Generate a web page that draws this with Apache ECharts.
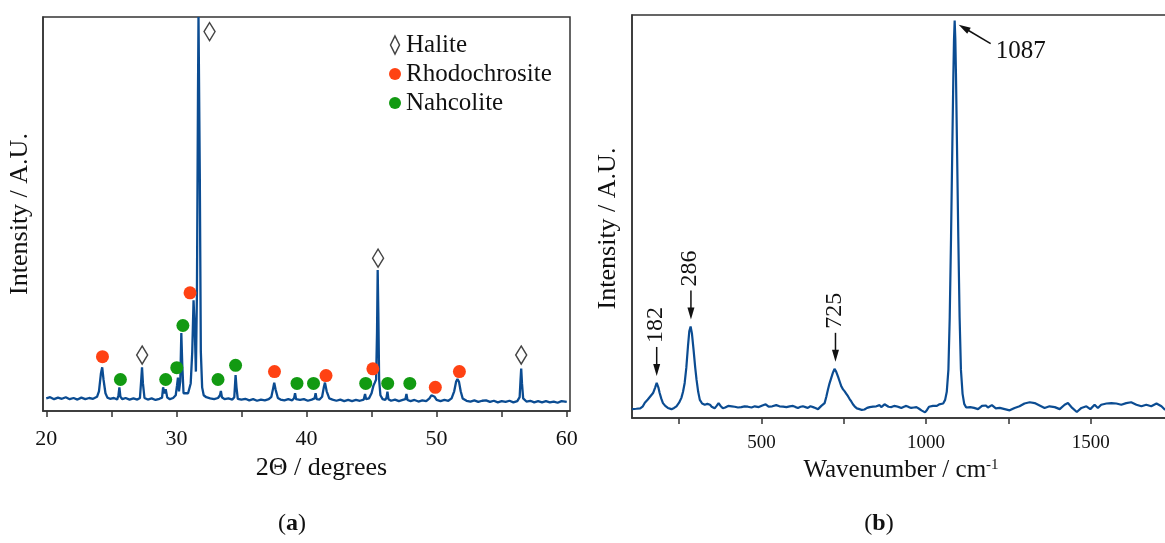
<!DOCTYPE html>
<html><head><meta charset="utf-8">
<script src="https://cdn.jsdelivr.net/npm/echarts@6/dist/echarts.min.js"></script>
<style>html,body{margin:0;padding:0;background:#fff}#c{width:1165px;height:543px}</style>
</head><body><div id="c"></div>
<script>
const FONT = "'Liberation Serif','Times New Roman',serif";

// ---- (a) XRD pattern ----
const xrdAngle = [20.0,20.3,20.6,20.9,21.2,21.5,21.8,22.1,22.4,22.7,23.0,23.3,23.6,23.9,24.05,24.2,24.3,24.4,24.55,24.7,24.9,25.2,25.45,25.55,25.62,25.7,25.85,26.1,26.4,26.7,27.0,27.2,27.3,27.36,27.43,27.55,27.8,28.1,28.4,28.7,28.9,28.98,29.08,29.18,29.3,29.5,29.75,29.95,30.05,30.12,30.2,30.3,30.38,30.45,30.55,30.7,30.9,31.1,31.22,31.32,31.42,31.5,31.58,31.66,31.7,31.75,31.8,31.88,31.98,32.1,32.3,32.6,32.9,33.2,33.35,33.42,33.5,33.7,34.0,34.3,34.45,34.55,34.62,34.72,35.0,35.3,35.6,35.9,36.2,36.5,36.8,37.1,37.3,37.45,37.52,37.62,37.8,38.0,38.3,38.6,38.9,39.05,39.12,39.2,39.5,39.8,40.1,40.4,40.62,40.7,40.78,41.0,41.2,41.33,41.42,41.55,41.75,42.0,42.3,42.6,42.9,43.2,43.5,43.8,44.1,44.4,44.5,44.58,44.8,45.0,45.15,45.25,45.35,45.42,45.47,45.52,45.58,45.68,45.85,46.05,46.15,46.22,46.3,46.5,46.8,47.1,47.4,47.6,47.68,47.76,48.0,48.3,48.6,48.9,49.2,49.45,49.6,49.72,49.85,50.0,50.3,50.6,50.9,51.15,51.35,51.5,51.6,51.72,51.85,52.0,52.3,52.6,52.9,53.2,53.5,53.8,54.1,54.4,54.7,55.0,55.3,55.6,55.9,56.2,56.38,56.45,56.5,56.56,56.65,56.9,57.2,57.5,57.8,58.1,58.4,58.7,59.0,59.3,59.6,60.0];
const xrdIntensity = [3.2,3.5,3.0,3.4,3.1,3.5,3.0,3.3,2.9,3.4,3.0,3.3,3.1,3.6,5.0,9.5,11.1,8.0,4.5,3.4,3.1,3.3,2.9,4.0,6.0,3.6,3.0,3.3,2.9,3.2,2.9,3.3,8.0,11.1,7.0,3.3,2.9,3.2,2.8,3.1,3.4,6.0,4.5,5.5,3.4,3.0,3.3,4.0,6.5,8.5,5.0,7.5,19.8,12.0,4.5,4.0,4.5,7.0,15.0,28.1,20.0,10.0,30.0,80.0,100,100,60.0,15.0,6.0,4.0,3.5,3.2,3.0,3.3,4.0,5.1,3.5,3.0,3.2,2.9,3.5,9.1,6.0,3.1,2.9,3.1,2.7,3.0,2.6,2.9,2.7,3.0,3.6,6.0,7.2,5.5,3.3,2.9,2.7,3.0,2.7,3.3,4.5,3.0,2.8,3.0,2.6,2.9,3.2,4.5,3.0,2.9,3.6,6.0,7.2,5.0,3.2,2.9,2.6,2.9,2.5,2.8,2.5,2.8,2.6,2.9,4.3,3.0,3.2,4.5,6.5,7.2,8.0,20.0,35.8,25.0,8.0,4.0,3.0,2.8,3.4,4.9,3.0,2.6,2.9,2.5,2.8,3.0,4.3,2.8,2.5,2.8,2.4,2.7,2.5,3.2,4.0,4.2,3.6,2.8,2.5,2.8,2.6,3.2,5.0,7.5,8.1,7.4,5.0,3.2,2.6,2.4,2.7,2.3,2.6,2.7,2.3,2.6,2.2,2.5,2.3,2.6,2.2,2.5,3.5,8.0,10.8,7.0,3.2,2.4,2.6,2.2,2.5,2.2,2.5,2.2,2.4,2.1,2.5,2.3];

const haliteAngle = [27.37, 32.55, 45.5, 56.5];
const haliteMark  = [14.2, 96.3, 38.8, 14.2];
const rhodoAngle  = [24.32, 31.05, 37.54, 41.5, 45.1, 49.9, 51.75];
const rhodoMark   = [13.8, 30.0, 10.0, 9.0, 10.7, 6.0, 10.0];
const nahcoAngle  = [25.7, 29.18, 30.03, 30.5, 33.2, 34.55, 39.27, 40.54, 44.55, 46.24, 47.94];
const nahcoMark   = [8.0, 8.0, 11.0, 21.7, 8.0, 11.6, 7.0, 7.0, 7.0, 7.0, 7.0];

const xrdTicks  = [20,25,30,35,40,45,50,55,60];
const xrdLabels = [20,30,40,50,60];

// ---- (b) Raman spectrum ----
const ramanShift = [107,120,132,140,146,155,161,171,177,182,187,191,196,201,208,216,227,235,242,250,257,262,267,272,277,281,285,289,294,299,303,308,313,320,328,336,344,349,353,358,364,370,376,383,390,399,410,419,429,439,449,459,470,480,492,503,513,522,533,545,555,566,576,586,596,604,611,619,626,634,641,649,657,664,672,677,682,687,692,697,702,707,712,717,722,727,733,738,743,748,753,758,763,768,773,778,783,790,798,805,813,821,829,839,849,854,859,864,869,874,879,886,895,903,910,918,925,933,940,948,955,963,971,979,986,992,997,1003,1009,1015,1021,1027,1033,1040,1046,1052,1058,1063,1068,1072,1076,1080,1083,1085,1087,1089,1091,1094,1098,1102,1106,1111,1116,1122,1128,1134,1140,1146,1152,1158,1164,1170,1176,1182,1188,1194,1200,1206,1212,1218,1224,1239,1254,1269,1284,1299,1315,1330,1345,1360,1375,1391,1406,1421,1431,1444,1458,1472,1487,1499,1512,1522,1532,1548,1563,1578,1593,1608,1623,1639,1654,1669,1684,1700,1715,1725,1741];
const ramanIntensity = [2.2,2.3,2.4,2.9,3.8,4.6,5.0,6.2,7.5,8.7,7.6,6.2,4.8,3.7,3.0,2.5,2.2,2.5,2.9,3.8,5.0,6.5,8.7,12.5,17.8,21.5,22.7,21.0,16.9,12.5,9.5,6.5,4.5,3.6,3.3,3.5,3.3,2.8,2.5,2.4,3.0,3.7,3.0,2.4,2.6,3.0,2.9,2.8,2.6,2.7,2.9,2.8,2.6,2.9,2.7,3.1,3.4,2.8,2.9,3.2,2.9,2.8,2.7,2.9,3.0,2.7,2.5,2.8,2.9,2.7,2.5,2.9,2.7,2.5,2.2,2.6,3.0,3.3,3.7,5.2,7.0,8.6,9.9,11.2,12.2,11.5,10.2,9.0,7.8,7.1,6.6,6.0,5.4,4.7,4.1,3.4,2.9,2.4,2.2,2.0,2.1,2.5,2.7,2.8,2.9,3.3,3.2,2.7,2.9,3.4,3.3,2.8,2.7,3.0,2.9,2.7,2.5,2.8,3.0,2.7,2.5,2.6,2.7,2.3,1.9,1.6,1.4,2.0,2.8,3.2,3.0,3.3,3.0,3.4,3.2,3.6,4.5,6.5,12,25,45,68,85,94,98.6,94,85,68,45,25,12,6,3.5,2.6,2.3,2.7,2.9,2.5,2.8,2.2,2.4,3.0,3.3,3.1,2.6,2.9,3.2,2.8,2.4,2.6,2.5,2.2,1.9,2.5,2.9,3.6,3.9,3.7,3.1,2.5,2.9,2.7,2.2,3.3,3.7,2.5,1.5,2.5,2.9,2.2,3.3,2.5,3.3,3.6,3.7,3.6,3.3,3.7,3.9,3.3,2.9,3.3,2.9,3.6,2.9,2.1,2.4];

const ramanTicks  = [250,500,750,1000,1250,1500,1750];
const ramanLabels = [500,1000,1500];
const ramanSideLabels = [182, 286, 725];
const ramanMainLabel = 1087;

const LINE = '#0B4C92';
const INK = '#111';

function zip(a, b) { return a.map((v, i) => [v, b[i]]); }
function peakHeight(w) {
  let m = -Infinity;
  ramanShift.forEach((x, i) => { if (Math.abs(x - w) <= 6) m = Math.max(m, ramanIntensity[i]); });
  return m;
}

const diamondPath = 'path://M5,0L10,10L5,20L0,10Z';

const chart = echarts.init(document.getElementById('c'));
const option = {
  animation: false,
  backgroundColor: '#fff',
  textStyle: { fontFamily: FONT, color: INK },
  grid: [
    { left: 43, top: 17, width: 527, height: 394, show: true, borderColor: '#333', borderWidth: 1.5, backgroundColor: 'transparent', outerBoundsMode: 'none', containLabel: false },
    { left: 632, top: 15, width: 538, height: 403, show: true, borderColor: '#333', borderWidth: 1.5, backgroundColor: 'transparent', outerBoundsMode: 'none', containLabel: false }
  ],
  legend: {
    orient: 'vertical', left: 384, top: 27, itemGap: 3, itemWidth: 12, itemHeight: 18,
    textStyle: { fontFamily: FONT, fontSize: 25, color: INK, lineHeight: 26 },
    data: [
      { name: 'Halite', icon: diamondPath, itemStyle: { color: '#fff', borderColor: '#444', borderWidth: 1.5 } },
      { name: 'Rhodochrosite', icon: 'circle', itemStyle: { color: '#FF4213' } },
      { name: 'Nahcolite', icon: 'circle', itemStyle: { color: '#129A12' } }
    ]
  },
  xAxis: [
    {
      gridIndex: 0, type: 'value', min: 19.75, max: 60.25,
      name: '2Θ / degrees', nameLocation: 'middle', nameGap: 33,
      nameTextStyle: { fontFamily: FONT, fontSize: 26, color: INK, padding: [0, 0, 0, 30] },
      axisLine: { lineStyle: { color: '#333', width: 1.5 } },
      axisTick: { show: true, length: 6, inside: false, customValues: xrdTicks, lineStyle: { color: '#333', width: 1.5 } },
      axisLabel: { customValues: xrdLabels, fontFamily: FONT, fontSize: 22, color: INK, margin: 17, formatter: v => String(v) },
      splitLine: { show: false }
    },
    {
      gridIndex: 1, type: 'value', min: 107, max: 1741,
      name: '{n|Wavenumber / cm}{s|-1}', nameLocation: 'middle', nameGap: 31,
      nameTextStyle: { fontFamily: FONT, fontSize: 25, color: INK,
        rich: { n: { fontFamily: FONT, fontSize: 25, color: INK }, s: { fontFamily: FONT, fontSize: 15, color: INK, verticalAlign: 'top', lineHeight: 15 } } },
      axisLine: { lineStyle: { color: '#333', width: 1.5 } },
      axisTick: { show: true, length: 6, inside: false, customValues: ramanTicks, lineStyle: { color: '#333', width: 1.5 } },
      axisLabel: { customValues: ramanLabels, fontFamily: FONT, fontSize: 19, color: INK, margin: 16, formatter: v => String(v) },
      splitLine: { show: false }
    }
  ],
  yAxis: [
    {
      gridIndex: 0, type: 'value', min: 0, max: 100,
      name: 'Intensity / A.U.', nameLocation: 'middle', nameGap: 10, nameRotate: 90,
      nameTextStyle: { fontFamily: FONT, fontSize: 26, color: INK },
      axisLine: { show: true, lineStyle: { color: '#333', width: 1.5 } },
      axisTick: { show: false }, axisLabel: { show: false }, splitLine: { show: false }
    },
    {
      gridIndex: 1, type: 'value', min: 0, max: 100,
      name: 'Intensity / A.U.', nameLocation: 'middle', nameGap: 11, nameRotate: 90,
      nameTextStyle: { fontFamily: FONT, fontSize: 26, color: INK, padding: [0, 24, 0, 0] },
      axisLine: { show: true, lineStyle: { color: '#333', width: 1.5 } },
      axisTick: { show: false }, axisLabel: { show: false }, splitLine: { show: false }
    }
  ],
  series: [
    { type: 'line', name: 'XRD', xAxisIndex: 0, yAxisIndex: 0, data: zip(xrdAngle, xrdIntensity),
      showSymbol: false, lineStyle: { color: LINE, width: 2.3 }, clip: true, z: 2 },
    { type: 'scatter', name: 'Halite', xAxisIndex: 0, yAxisIndex: 0, data: zip(haliteAngle, haliteMark),
      symbol: diamondPath, symbolSize: [11, 18], itemStyle: { color: '#fff', borderColor: '#444', borderWidth: 1.5, opacity: 1 }, z: 3 },
    { type: 'scatter', name: 'Rhodochrosite', xAxisIndex: 0, yAxisIndex: 0, data: zip(rhodoAngle, rhodoMark),
      symbol: 'circle', symbolSize: 13, itemStyle: { color: '#FF4213', opacity: 1 }, z: 3 },
    { type: 'scatter', name: 'Nahcolite', xAxisIndex: 0, yAxisIndex: 0, data: zip(nahcoAngle, nahcoMark),
      symbol: 'circle', symbolSize: 13, itemStyle: { color: '#129A12', opacity: 1 }, z: 3 },
    { type: 'line', name: 'Raman', xAxisIndex: 1, yAxisIndex: 1, data: zip(ramanShift, ramanIntensity),
      showSymbol: false, lineStyle: { color: LINE, width: 2.2 }, clip: true, z: 2 }
  ],
  graphic: [
    { type: 'text', x: 292, y: 524, style: { text: '({b|a})', font: '24px ' + FONT, fill: INK, align: 'center', verticalAlign: 'middle',
      rich: { b: { fontFamily: FONT, fontSize: 24, fontWeight: 'bold', fill: INK } } } },
    { type: 'text', x: 879, y: 524, style: { text: '({b|b})', font: '24px ' + FONT, fill: INK, align: 'center', verticalAlign: 'middle',
      rich: { b: { fontFamily: FONT, fontSize: 24, fontWeight: 'bold', fill: INK } } } }
  ]
};
chart.setOption(option);

// annotations anchored to Raman peaks through the chart's own scales
function toPx(v) { return chart.convertToPixel({ xAxisIndex: 1, yAxisIndex: 1 }, v); }
function arrow(x1, y1, x2, y2) {
  const dx = x2 - x1, dy = y2 - y1, L = Math.hypot(dx, dy);
  const ux = dx / L, uy = dy / L, nx = -uy, ny = ux, hl = 12, hw = 3.5;
  const bx = x2 - ux * hl, by = y2 - uy * hl;
  return [
    { type: 'line', shape: { x1: x1, y1: y1, x2: bx + ux * 2, y2: by + uy * 2 }, style: { stroke: INK, lineWidth: 1.5 } },
    { type: 'polygon', shape: { points: [[x2, y2], [bx + nx * hw, by + ny * hw], [bx - nx * hw, by - ny * hw]] }, style: { fill: INK } }
  ];
}
const extra = option.graphic.slice();
ramanSideLabels.forEach(w => {
  const p = toPx([w, peakHeight(w)]);
  const tip = p[1] - 7, tail = tip - 29;
  arrow(p[0], tail, p[0], tip).forEach(e => extra.push(e));
  extra.push({ type: 'text', x: p[0] - 1, y: tail - 4, rotation: Math.PI / 2,
    style: { text: String(w), font: '24px ' + FONT, fill: INK, align: 'left', verticalAlign: 'middle' } });
});
{
  const p = toPx([ramanMainLabel, peakHeight(ramanMainLabel)]);
  arrow(p[0] + 36, p[1] + 23, p[0] + 4, p[1] + 4).forEach(e => extra.push(e));
  extra.push({ type: 'text', x: p[0] + 41, y: p[1] + 31,
    style: { text: String(ramanMainLabel), font: '25px ' + FONT, fill: INK, align: 'left', verticalAlign: 'middle' } });
}
chart.setOption({ graphic: extra });
</script></body></html>
